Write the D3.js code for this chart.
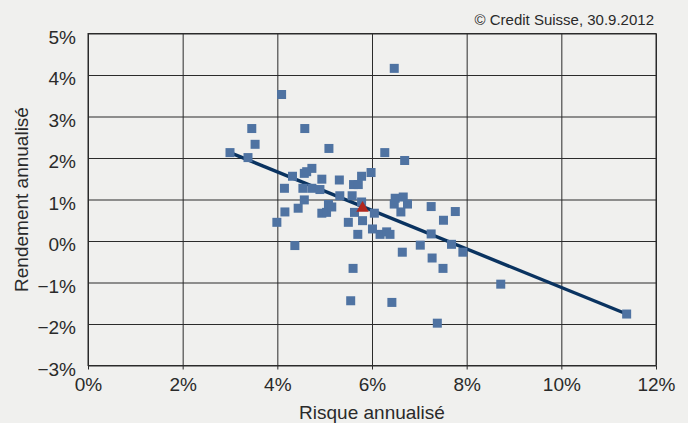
<!DOCTYPE html>
<html>
<head>
<meta charset="utf-8">
<script src="https://cdn.jsdelivr.net/npm/d3@7"></script>
<style>
  body { margin: 0; background: #f0f0ee; }
  svg { display: block; font-family: "Liberation Sans", Arial, sans-serif; }
</style>
</head>
<body>
<script>
// risque annualisé (%) et rendement annualisé (%) des fonds
let risk = [3.00, 3.38, 3.46, 3.53, 4.09, 3.99, 4.15, 4.16, 4.32, 4.37, 4.44, 4.54, 4.57, 4.58, 4.57,
            4.73, 4.73, 4.62, 4.94, 4.90, 4.94, 5.04, 5.09, 5.08, 5.15, 5.31, 5.32, 5.50, 5.58, 5.61,
            5.71, 5.60, 5.55, 5.63, 5.70, 5.78, 5.80, 5.78, 5.98, 6.01, 6.05, 6.17, 6.27, 6.31, 6.38,
            6.47, 6.42, 6.49, 6.47, 6.61, 6.64, 6.66, 6.69, 6.75, 7.02, 7.25, 7.25, 7.27, 7.38, 7.51,
            7.50, 7.68, 7.76, 7.92, 8.72, 11.38]
let ret = [2.13, 2.01, 2.71, 2.33, 3.53, 0.45, 1.27, 0.70, 1.56, -0.11, 0.79, 1.27, 1.63, 2.71, 0.99,
           1.75, 1.27, 1.67, 1.49, 1.24, 0.67, 0.69, 2.23, 0.88, 0.82, 1.47, 1.09, 0.45, 1.09, 1.36,
           1.36, -0.66, -1.44, 0.69, 0.16, 1.56, 0.49, 0.94, 1.65, 0.29, 0.67, 0.16, 2.13, 0.22, 0.16,
           4.16, -1.48, 1.03, 0.89, 0.70, -0.27, 1.06, 1.94, 0.89, -0.10, 0.17, 0.83, -0.41, -1.98, 0.50,
           -0.66, -0.08, 0.71, -0.27, -1.04, -1.76]

// moyenne (triangle) et droite de régression
let avgRisk = 5.80
let avgRet = 0.79
let lineX = [3.00, 11.38]
let lineY = [2.13, -1.76]

let xTicks = [0, 2, 4, 6, 8, 10, 12]
let yTicks = [-3, -2, -1, 0, 1, 2, 3, 4, 5]

let width = 688
let height = 423
let margin = {top: 33.5, right: 32, bottom: 57.5, left: 88}
let w = width - margin.left - margin.right
let h = height - margin.top - margin.bottom

let svg = d3.select("body")
            .append("svg")
            .attr("width", width)
            .attr("height", height)

svg.append("rect")
    .attr("width", width)
    .attr("height", height)
    .attr("fill", "#f0f0ee")

let g = svg.append("g")
            .attr("transform", "translate(" + margin.left + "," + margin.top + ")")

let xScale = d3.scaleLinear().domain([0, 12]).range([0, w])
let yScale = d3.scaleLinear().domain([-3, 5]).range([h, 0])

let pct = d => d3.format(".0f")(d) + "%"

// grille
g.append("g")
    .attr("class", "grid")
    .attr("transform", "translate(0," + h + ")")
    .call(d3.axisBottom(xScale).tickValues(xTicks).tickSize(-h).tickFormat(""))
g.append("g")
    .attr("class", "grid")
    .call(d3.axisLeft(yScale).tickValues(yTicks).tickSize(-w).tickFormat(""))
g.selectAll(".grid .domain").remove()
g.selectAll(".grid line").attr("stroke", "#2b2b2b").attr("stroke-width", 1)

g.append("rect")
    .attr("width", w)
    .attr("height", h)
    .attr("fill", "none")
    .attr("stroke", "#2b2b2b")
    .attr("stroke-width", 1)

// axes
let xAxis = g.append("g")
    .attr("transform", "translate(0," + h + ")")
    .call(d3.axisBottom(xScale).tickValues(xTicks).tickSize(4).tickPadding(8).tickFormat(pct))
xAxis.select(".domain").remove()
xAxis.selectAll("line").attr("stroke", "#2b2b2b")
xAxis.selectAll("text").attr("font-size", 19).attr("fill", "#2a2a2a").attr("font-family", null)

let yAxis = g.append("g")
    .call(d3.axisLeft(yScale).tickValues(yTicks).tickSize(0).tickPadding(12).tickFormat(pct))
yAxis.select(".domain").remove()
yAxis.selectAll("text").attr("font-size", 19).attr("fill", "#2a2a2a").attr("dy", "0.5em").attr("font-family", null)

// droite de régression
g.append("line")
    .attr("x1", xScale(lineX[0]))
    .attr("y1", yScale(lineY[0]))
    .attr("x2", xScale(lineX[1]))
    .attr("y2", yScale(lineY[1]))
    .attr("stroke", "#0a3360")
    .attr("stroke-width", 3.4)

// fonds
let sq = 9
g.selectAll("rect.fund")
    .data(risk)
    .enter()
    .append("rect")
    .attr("class", "fund")
    .attr("x", (d) => xScale(d) - sq / 2)
    .attr("y", (d, i) => yScale(ret[i]) - sq / 2)
    .attr("width", sq)
    .attr("height", sq)
    .attr("fill", "#4f73a2")

// moyenne
g.append("path")
    .attr("d", d3.symbol().type(d3.symbolTriangle).size(68)())
    .attr("transform", "translate(" + xScale(avgRisk) + "," + yScale(avgRet) + ")")
    .attr("fill", "#b0261e")

// titres
svg.append("text")
    .attr("x", margin.left + w / 2)
    .attr("y", 418.5)
    .attr("text-anchor", "middle")
    .attr("font-size", 19)
    .attr("fill", "#2a2a2a")
    .text("Risque annualisé")

svg.append("text")
    .attr("transform", "translate(28," + (margin.top + h / 2) + ") rotate(-90)")
    .attr("text-anchor", "middle")
    .attr("font-size", 19)
    .attr("fill", "#2a2a2a")
    .text("Rendement annualisé")

svg.append("text")
    .attr("x", 654)
    .attr("y", 25)
    .attr("text-anchor", "end")
    .attr("font-size", 15)
    .attr("fill", "#2a2a2a")
    .text("© Credit Suisse, 30.9.2012")
</script>
</body>
</html>
